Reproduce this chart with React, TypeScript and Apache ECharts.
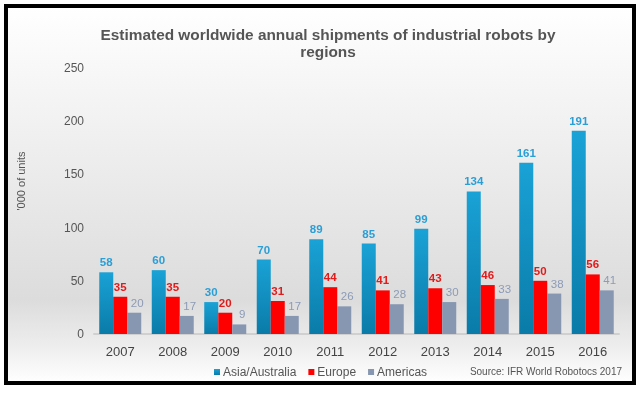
import React, { useEffect, useRef } from "react";
import * as echarts from "echarts";

const categories = ["2007", "2008", "2009", "2010", "2011", "2012", "2013", "2014", "2015", "2016"];
const asiaAustralia = [58, 60, 30, 70, 89, 85, 99, 134, 161, 191];
const europe = [35, 35, 20, 31, 44, 41, 43, 46, 50, 56];
const americas = [20, 17, 9, 17, 26, 28, 30, 33, 38, 41];
const seriesNames = ["Asia/Australia", "Europe", "Americas"];

export default function App() {
  const ref = useRef<HTMLDivElement>(null);
  useEffect(() => {
    if (!ref.current) return;
    const chart = echarts.init(ref.current, null, { renderer: "svg" });
    const labelBase = { show: true, position: "top" as const, distance: 4, fontFamily: "Liberation Sans, Arial, sans-serif" };
    chart.setOption({
      animation: false,
      textStyle: { fontFamily: "Liberation Sans, Arial, sans-serif" },
      graphic: [
        {
          type: "rect",
          z: -10,
          silent: true,
          shape: { x: 6, y: 6, width: 628, height: 377 },
          style: {
            fill: new echarts.graphic.LinearGradient(0, 0, 0, 1, [
              { offset: 0, color: "#ffffff" },
              { offset: 0.45, color: "#ebebeb" },
              { offset: 0.78, color: "#dcdcdc" },
              { offset: 0.9, color: "#ededed" },
              { offset: 1, color: "#ffffff" },
            ]),
            stroke: "#000",
            lineWidth: 4,
          },
        },
        {
          type: "text",
          x: 21,
          y: 181,
          rotation: Math.PI / 2,
          style: {
            text: "'000 of units",
            fill: "#555",
            font: "11px Liberation Sans, Arial, sans-serif",
            textAlign: "center",
            textVerticalAlign: "middle",
          },
        },
        {
          type: "text",
          x: 622,
          y: 371,
          style: {
            text: "Source: IFR World Robotocs 2017",
            fill: "#555",
            font: "10px Liberation Sans, Arial, sans-serif",
            textAlign: "right",
            textVerticalAlign: "middle",
          },
        },
      ],
      title: {
        text: "Estimated worldwide annual shipments of industrial robots by\nregions",
        left: 323,
        textAlign: "center",
        top: 21,
        textStyle: { fontSize: 15.4, fontWeight: "bold", color: "#555", lineHeight: 17, fontFamily: "Liberation Sans, Arial, sans-serif" },
      },
      legend: {
        data: seriesNames,
        left: 209,
        top: 361,
        itemWidth: 6,
        itemHeight: 6,
        itemGap: 12,
        icon: "rect",
        textStyle: { fontSize: 12, color: "#555", padding: [0, 0, 0, -2] },
      },
      grid: { left: 94, right: 25, top: 68, bottom: 61 },
      xAxis: {
        type: "category",
        data: categories,
        axisTick: { show: false },
        axisLine: { show: true, lineStyle: { color: "#d0d0d0", width: 2 } },
        axisLabel: { fontSize: 13, color: "#444", margin: 11 },
      },
      yAxis: {
        type: "value",
        min: 0,
        max: 250,
        interval: 50,
        splitLine: { show: false },
        axisLine: { show: false },
        axisTick: { show: false },
        axisLabel: { fontSize: 12, color: "#555", margin: 10 },
      },
      series: [
        {
          name: seriesNames[0],
          type: "bar",
          data: asiaAustralia,
          barGap: "0%",
          barCategoryGap: "20%",
          itemStyle: {
            color: new echarts.graphic.LinearGradient(0, 0, 0, 1, [
              { offset: 0, color: "#1aa2d6" },
              { offset: 1, color: "#0a7ba8" },
            ]),
          },
          label: { ...labelBase, color: "#2a9fd6", fontWeight: "bold", fontSize: 11.5 },
        },
        {
          name: seriesNames[1],
          type: "bar",
          data: europe,
          itemStyle: { color: "#ff0000" },
          label: { ...labelBase, color: "#e21a1a", fontWeight: "bold", fontSize: 11.5 },
        },
        {
          name: seriesNames[2],
          type: "bar",
          data: americas,
          itemStyle: { color: "#8797b2" },
          label: { ...labelBase, color: "#8c9bb6", fontSize: 11.5, offset: [3, 0] },
        },
      ],
    });
    return () => chart.dispose();
  }, []);
  return <div ref={ref} style={{ position: "fixed", left: 0, top: 0, width: 644, height: 395 }} />;
}
